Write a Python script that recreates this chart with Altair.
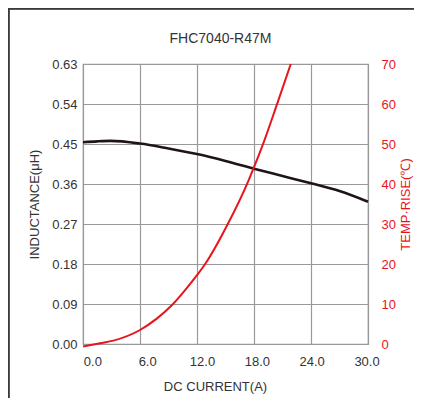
import altair as alt
import pandas as pd

# ---- data ----
ind_current = [0.0, 1.5, 2.9, 6.0, 9.0, 12.0, 15.0, 18.0, 21.0, 24.0, 27.0, 30.0]
ind_values = [0.454, 0.456, 0.457, 0.451, 0.440, 0.4275, 0.412, 0.3945, 0.378, 0.3615, 0.344, 0.320]

temp_current = [0.0, 1.8, 3.2, 6.0, 7.8, 9.4, 10.9, 12.0, 12.86, 15.31, 17.41, 18.0, 19.0, 20.4, 21.87]
temp_values = [-0.6, 0.2, 0.85, 3.5, 6.4, 9.8, 13.9, 17.2, 20.0, 30.3, 40.8, 44.2, 50.3, 59.8, 70.0]

x_ticks = [0.0, 6.0, 12.0, 18.0, 24.0, 30.0]
y_left_ticks = [0.0, 0.09, 0.18, 0.27, 0.36, 0.45, 0.54, 0.63]
y_right_ticks = [0, 10, 20, 30, 40, 50, 60, 70]

ind_df = pd.DataFrame({"I": ind_current, "L": ind_values})
temp_df = pd.DataFrame({"I": temp_current, "T": temp_values})
tick_df = pd.DataFrame({"tick": x_ticks})

GRID = "#999999"
RED = "#e8141b"
TXT = "#333333"

ind_layer = alt.Chart(ind_df).mark_line(
    color="#1f1517", strokeWidth=2.6, interpolate="monotone"
).encode(
    x=alt.X("I:Q", scale=alt.Scale(domain=[0, 30], nice=False, zero=False),
            axis=alt.Axis(values=x_ticks, orient="bottom", grid=True, labels=False,
                          ticks=False, domain=False, title=None, gridColor=GRID,
                          gridWidth=1.2, maxExtent=0, minExtent=0)),
    y=alt.Y("L:Q", scale=alt.Scale(domain=[0, 0.63], nice=False, zero=False),
            axis=alt.Axis(values=y_left_ticks, format=".2f", orient="left", grid=True,
                          gridColor=GRID, gridWidth=1.2, ticks=False, domain=False,
                          labelColor=TXT, labelFontSize=13, labelPadding=6,
                          title="INDUCTANCE(μH)", titleColor=TXT, titleFontSize=13,
                          titleFontWeight="normal", titlePadding=10)),
)

temp_layer = alt.Chart(temp_df).mark_line(
    color=RED, strokeWidth=2.0, interpolate="monotone"
).encode(
    x=alt.X("I:Q", scale=alt.Scale(domain=[0, 30], nice=False, zero=False), axis=None),
    y=alt.Y("T:Q", scale=alt.Scale(domain=[0, 70], nice=False, zero=False),
            axis=alt.Axis(values=y_right_ticks, orient="right", grid=False, ticks=False,
                          domain=False, labelColor=RED, labelFontSize=13, labelPadding=13,
                          title="TEMP·RISE(℃)", titleColor=RED, titleFontSize=13,
                          titleFontWeight="normal", titleAngle=270, titleBaseline="top",
                          titlePadding=4)),
)

label_layer = alt.Chart(tick_df).mark_point(opacity=0).encode(
    x=alt.X("tick:Q", scale=alt.Scale(domain=[-1.02, 30.16], nice=False, zero=False),
            axis=alt.Axis(values=x_ticks, format=".1f", orient="bottom", grid=False,
                          ticks=False, domain=False, labelColor=TXT, labelFontSize=13,
                          labelPadding=11, title="DC CURRENT(A)", titleColor=TXT,
                          titleFontSize=13, titleFontWeight="normal", titlePadding=12,
                          titleX=132)),
)

frame_v = alt.Chart(tick_df).mark_rule(color="#3a3a3a", strokeWidth=1.5).encode(
    x=alt.value(-74.5), y=alt.value(-55.5), y2=alt.value(420)
)
frame_h = alt.Chart(tick_df).mark_rule(color="#3a3a3a", strokeWidth=1.5).encode(
    x=alt.value(-74.5), x2=alt.value(420), y=alt.value(-55.5)
)

chart = alt.layer(ind_layer, temp_layer, label_layer, frame_v, frame_h).resolve_scale(
    x="independent", y="independent"
).properties(
    width=285,
    height=280,
    padding={"left": 75, "top": 56, "right": 46, "bottom": 54},
    autosize=alt.AutoSizeParams(type="none"),
    title=alt.TitleParams("FHC7040-R47M", fontSize=14, fontWeight="normal",
                          color=TXT, anchor="middle", dx=-5, offset=-38),
    background="white",
).configure(font="Liberation Sans").configure_view(stroke=GRID, strokeWidth=1.2)

chart.save("out.html", embed_options={"renderer": "svg", "actions": False})
